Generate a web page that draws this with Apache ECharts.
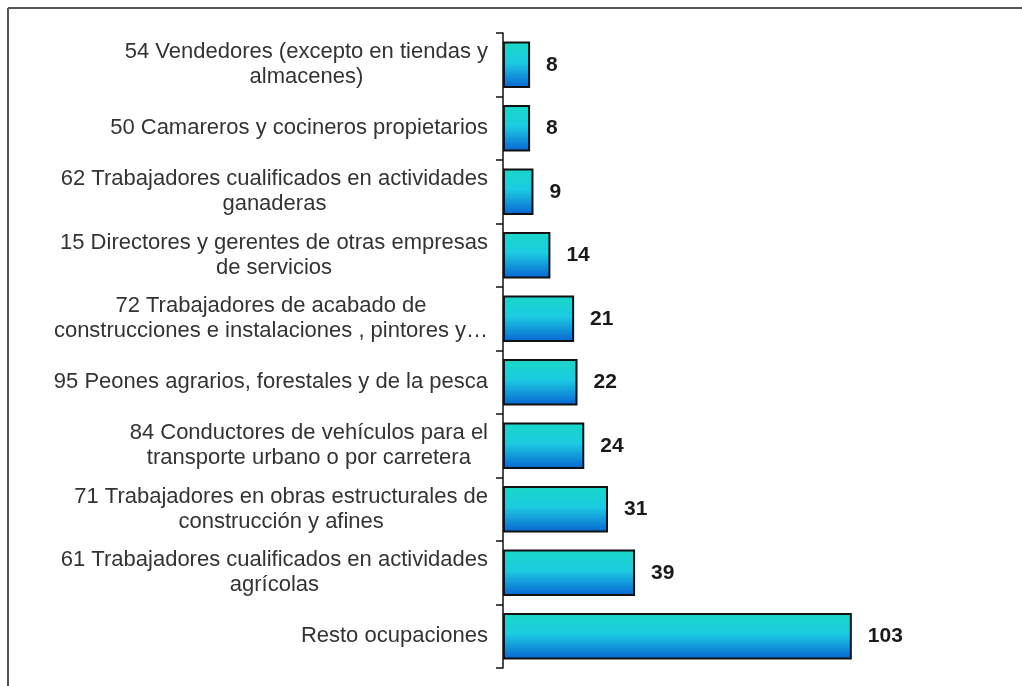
<!DOCTYPE html>
<html>
<head>
<meta charset="utf-8">
<script src="https://cdn.jsdelivr.net/npm/echarts@6/dist/echarts.min.js"></script>
<style>
  html, body { margin: 0; padding: 0; background: #ffffff; }
  #chart { width: 1022px; height: 686px; }
</style>
</head>
<body>
<div id="chart"></div>
<script>
// Ocupaciones, de arriba abajo
const categories = [
  "54 Vendedores (excepto en tiendas y\nalmacenes)",
  "50 Camareros y cocineros propietarios",
  "62 Trabajadores cualificados en actividades\nganaderas",
  "15 Directores y gerentes de otras empresas\nde servicios",
  "72 Trabajadores de acabado de\nconstrucciones e instalaciones , pintores y\u2026",
  "95 Peones agrarios, forestales y de la pesca",
  "84 Conductores de veh\u00edculos para el\ntransporte urbano o por carretera",
  "71 Trabajadores en obras estructurales de\nconstrucci\u00f3n y afines",
  "61 Trabajadores cualificados en actividades\nagr\u00edcolas",
  "Resto ocupaciones"
];
const values = [8, 8, 9, 14, 21, 22, 24, 31, 39, 103];

const chart = echarts.init(document.getElementById("chart"));

const font = "Liberation Sans, Arial, sans-serif";

const options = {
  animation: false,
  backgroundColor: "#ffffff",
  grid: { left: 503, right: 11, top: 33, bottom: 18 },
  xAxis: {
    type: "value",
    min: 0,
    max: 150,
    show: false
  },
  yAxis: {
    type: "category",
    inverse: true,
    data: categories,
    axisLine: { show: true, lineStyle: { color: "#111", width: 1.5 } },
    axisTick: { show: true, inside: false, length: 7, lineStyle: { color: "#111", width: 1.5 } },
    axisLabel: {
      margin: 15,
      align: "right",
      fontFamily: font,
      formatter: (v) => v.split("\n").map((l) => "{c|" + l + "}").join("\n"),
      rich: {
        c: { align: "center", fontSize: 22, lineHeight: 25, color: "#333", fontFamily: font }
      }
    }
  },
  series: [
    {
      type: "bar",
      data: values,
      barCategoryGap: "27%",
      itemStyle: {
        borderColor: "#111",
        borderWidth: 2,
        color: new echarts.graphic.LinearGradient(0, 0, 0, 1, [
          { offset: 0, color: "#19d8c6" },
          { offset: 0.45, color: "#1ccbe2" },
          { offset: 1, color: "#0864d2" }
        ])
      },
      label: {
        show: true,
        position: "right",
        distance: 16,
        fontFamily: font,
        fontSize: 21,
        fontWeight: "bold",
        color: "#1a1a1a"
      }
    }
  ],
  graphic: [
    { type: "line", shape: { x1: 8, y1: 8, x2: 1022, y2: 8 }, style: { stroke: "#555", lineWidth: 2 } },
    { type: "line", shape: { x1: 8, y1: 8, x2: 8, y2: 686 }, style: { stroke: "#555", lineWidth: 2 } }
  ]
};

chart.setOption(options);
</script>
</body>
</html>
